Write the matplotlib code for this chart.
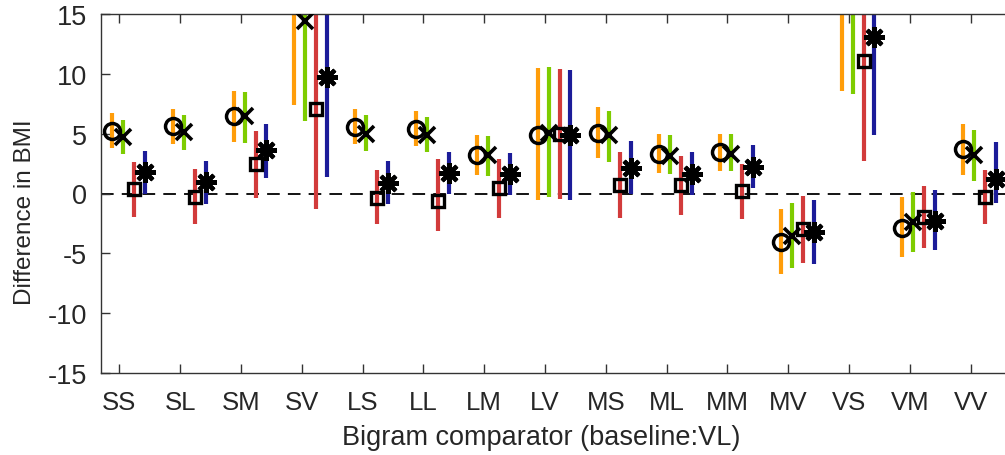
import matplotlib
matplotlib.use("Agg")
import matplotlib.pyplot as plt
import numpy as np

plt.rcParams['font.family'] = ['Liberation Sans', 'DejaVu Sans']

categories = ["SS", "SL", "SM", "SV", "LS", "LL", "LM", "LV", "MS", "ML", "MM", "MV", "VS", "VM", "VV"]

# Series 1 (orange, circle)
s1_val = [5.25, 5.6, 6.5, 16.5, 5.56, 5.4, 3.25, 4.92, 5.06, 3.33, 3.47, -4.05, 17.0, -2.85, 3.72]
s1_lo  = [3.8, 4.1, 4.3, 7.42, 4.17, 3.97, 1.58, -0.53, 2.94, 1.69, 1.89, -6.7, 8.6, -5.3, 1.53]
s1_hi  = [6.72, 7.06, 8.6, 25.0, 7.03, 6.89, 4.92, 10.47, 7.22, 4.97, 5.0, -1.33, 25.0, -0.28, 5.8]

# Series 2 (green, x)
s2_val = [4.72, 5.14, 6.44, 14.44, 5.0, 4.86, 3.19, 5.06, 4.86, 3.1, 3.33, -3.55, 16.5, -2.36, 3.19]
s2_lo  = [3.28, 3.67, 4.22, 6.08, 3.56, 3.47, 1.47, -0.33, 2.64, 1.61, 1.86, -6.2, 8.33, -4.9, 1.03]
s2_hi  = [6.17, 6.56, 8.5, 25.0, 6.53, 6.42, 4.81, 10.58, 6.89, 4.92, 4.94, -0.83, 25.0, 0.14, 5.28]

# Series 3 (red, square)
s3_val = [0.36, -0.33, 2.44, 7.08, -0.36, -0.61, 0.47, 5.0, 0.75, 0.72, 0.19, -2.97, 11.1, -1.94, -0.28]
s3_lo  = [-1.97, -2.56, -0.36, -1.33, -2.58, -3.1, -2.03, -0.42, -2.06, -1.81, -2.17, -5.78, 2.69, -4.56, -2.58]
s3_hi  = [2.64, 2.06, 5.22, 25.0, 2.0, 2.9, 2.92, 10.42, 3.44, 3.14, 2.5, -0.25, 25.0, 0.61, 2.0]

# Series 4 (blue, asterisk)
s4_val = [1.8, 0.97, 3.61, 9.72, 0.89, 1.72, 1.61, 4.86, 2.14, 1.61, 2.22, -3.25, 13.1, -2.28, 1.25]
s4_lo  = [-0.08, -0.89, 1.31, 1.39, -0.86, -0.08, -0.14, -0.53, -0.06, -0.14, 0.42, -5.92, 4.86, -4.75, -0.83]
s4_hi  = [3.58, 2.69, 5.83, 25.0, 2.69, 3.47, 3.42, 10.33, 4.39, 3.44, 4.03, -0.53, 25.0, 0.28, 4.31]

yticks = [-15, -10, -5, 0, 5, 10, 15]

series = [
    (s1_val, s1_lo, s1_hi, '#FF9D0A', 'o', 11.5, 2.5, -0.12),
    (s2_val, s2_lo, s2_hi, '#7ECC00', 'x', 12.0, 2.6, 0.06),
    (s3_val, s3_lo, s3_hi, '#D23B3B', 's', 9.0, 2.4, 0.24),
    (s4_val, s4_lo, s4_hi, '#1C1C99', (8, 2, 0), 15.0, 3.0, 0.42),
]

fig = plt.figure(figsize=(10.05, 4.56), dpi=100)
ax = fig.add_axes([100.7 / 1005, 1 - 374 / 456, 1 - 100.7 / 1005, (374 - 15) / 456])

x = np.arange(1, len(categories) + 1)
ax.axhline(0, color='black', lw=1.3, ls=(0, (7, 4.5)), zorder=1)

for val, lo, hi, col, mk, ms, mew, off in series:
    xs = x + off
    ax.vlines(xs, lo, hi, color=col, lw=3.0, zorder=2)
    ax.plot(xs, val, ls='none', marker=mk, ms=ms, mfc='none', mec='black', mew=mew, zorder=3)

ax.set_xlim(0.694, 15.567)
ax.set_ylim(-15, 15)
ax.set_xticks(x)
ax.set_xticklabels(categories)
ax.set_yticks(yticks)
ax.set_yticklabels([str(v) for v in yticks])
ax.tick_params(direction='in', length=6.5, width=1.0, top=True, color='#333333')
ax.tick_params(axis='x', pad=12, labelsize=18.5)
ax.tick_params(axis='y', pad=10, labelsize=19.5)
for s in ['left', 'bottom', 'top']:
    ax.spines[s].set_linewidth(1.0)
    ax.spines[s].set_color('#333333')
ax.spines['right'].set_visible(False)

ax.set_xlabel('Bigram comparator (baseline:VL)', fontsize=19.5, color='#262626')
ax.set_ylabel('Difference in BMI', fontsize=17.5, color='#262626')
ax.xaxis.set_label_coords((541 - 100.7) / 904.3, (374 - 425) / 359)
ax.yaxis.set_label_coords((36 - 100.7) / 904.3, (374 - 212) / 359)
for lbl in ax.get_xticklabels() + ax.get_yticklabels():
    lbl.set_color('#262626')

fig.savefig('out.png', dpi=100)
